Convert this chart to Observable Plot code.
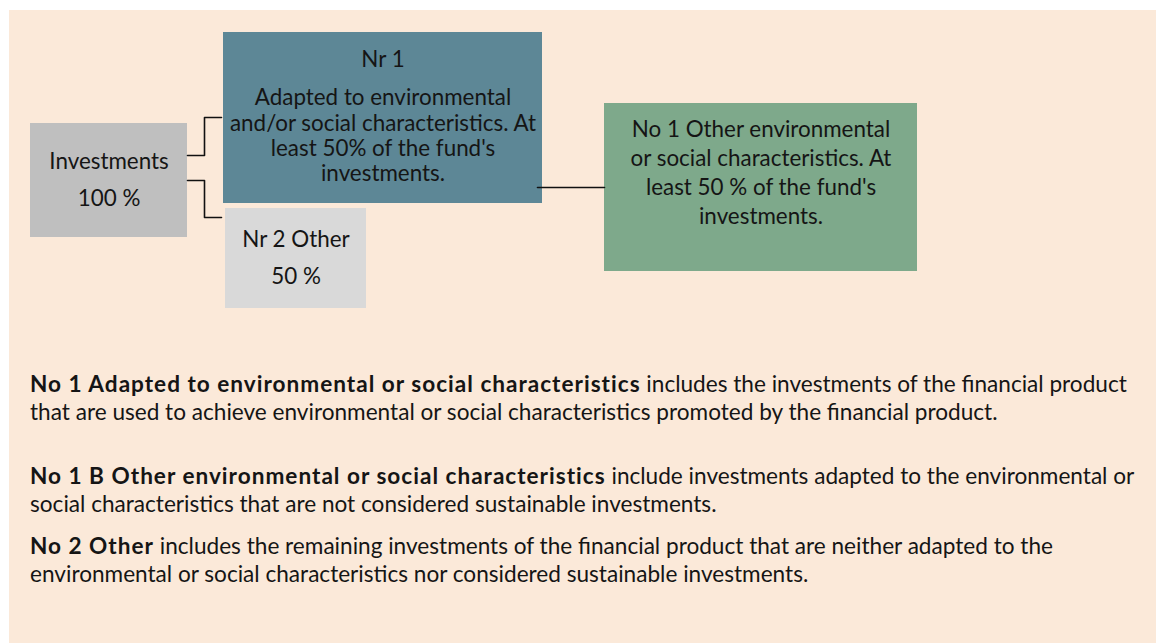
<!DOCTYPE html>
<html>
<head>
<meta charset="utf-8">
<script src="https://cdn.jsdelivr.net/npm/d3@7"></script>
<script src="https://cdn.jsdelivr.net/npm/@observablehq/plot@0.6"></script>
<style>
  html, body { margin: 0; padding: 0; background: #ffffff; }
  #panel { position: absolute; left: 9px; top: 10px; width: 1147px; height: 633px; background: #FBE9D9; overflow: hidden; }
  #chart { position: absolute; left: 0; top: 0; }
  .para { position: absolute; left: 21px; font-family: Lato, "Open Sans", sans-serif; font-size: 22.6px; color: #151515; white-space: nowrap; line-height: 28.5px; }
  .para b { font-weight: 700; letter-spacing: 1px; }
</style>
</head>
<body>
<div id="panel"><div id="chart"></div></div>
<script>
// ---- Data: boxes of the asset allocation diagram ----
const boxIds    = ["inv", "nr1", "nr2", "no1"];
const boxTitles = ["Investments", "Nr 1", "Nr 2 Other", "No 1 Other environmental"];
const boxLines  = [
  ["Investments", "100 %"],
  ["Nr 1", "Adapted to environmental", "and/or social characteristics. At", "least 50% of the fund's", "investments."],
  ["Nr 2 Other", "50 %"],
  ["No 1 Other environmental", "or social characteristics. At", "least 50 % of the fund's", "investments."]
];
const boxShares = [100, 50, 50, 50];
const links = [["inv", "nr1"], ["inv", "nr2"], ["nr1", "no1"]];

// ---- Explanatory paragraphs (bold lead, rest) ----
const paraLeads = [
  "No 1 Adapted to environmental or social characteristics",
  "No 1 B Other environmental or social characteristics",
  "No 2 Other"
];
const paraLines = [
  [" includes the investments of the financial product", "that are used to achieve environmental or social characteristics promoted by the financial product."],
  [" include investments adapted to the environmental or", "social characteristics that are not considered sustainable investments."],
  [" includes the remaining investments of the financial product that are neither adapted to the", "environmental or social characteristics nor considered sustainable investments."]
];

// ---- Layout (page pixel coordinates) ----
const layout = {
  inv: {x1: 30,  x2: 187, y1: 123, y2: 237, fill: "#BFBFBF", ys: [161, 198]},
  nr1: {x1: 223, x2: 542, y1: 32,  y2: 203, fill: "#5D8796", ys: [59, 97, 123, 148, 173]},
  nr2: {x1: 225, x2: 366, y1: 208, y2: 308, fill: "#D9D9D9", ys: [239, 276]},
  no1: {x1: 604, x2: 917, y1: 103, y2: 271, fill: "#7EA98B", ys: [129, 158, 187, 216]}
};
const connectorPaths = {
  "inv-nr1": [[187,155],[204,155],[204,117],[221,117]],
  "inv-nr2": [[187,180],[204,180],[204,217],[221,217]],
  "nr1-no1": [[537,187],[604,187]]
};

const boxes = boxIds.map((id, i) => ({id, title: boxTitles[i], share: boxShares[i], ...layout[id]}));
const textRows = boxes.flatMap((b, i) => boxLines[i].map((t, j) => ({text: t, x: (b.x1 + b.x2) / 2, y: b.ys[j]})));
const linkRows = links.flatMap(([a, b]) => connectorPaths[a + "-" + b].map(([x, y]) => ({link: a + "-" + b, x, y})));

const W = 1147, H = 320, OX = 9, OY = 10;
const chart = Plot.plot({
  width: W, height: H,
  margin: 0,
  style: {background: "transparent", fontFamily: "Lato, 'Open Sans', sans-serif"},
  x: {domain: [OX, OX + W], range: [0, W], axis: null},
  y: {domain: [OY, OY + H], range: [0, H], axis: null},
  marks: [
    Plot.rect(boxes, {x1: "x1", x2: "x2", y1: "y1", y2: "y2", fill: "fill"}),
    Plot.line(linkRows, {x: "x", y: "y", z: "link", stroke: "#111", strokeWidth: 1.6, curve: "linear"}),
    Plot.text(textRows, {x: "x", y: "y", text: "text", fontSize: 22.4, fill: "#151515", textAnchor: "middle", lineAnchor: "middle"})
  ]
});
document.getElementById("chart").appendChild(chart);

// paragraphs
const paraTops = [384, 476, 546];
const panel = document.getElementById("panel");
paraLeads.forEach((lead, i) => {
  const p = document.createElement("div");
  p.className = "para";
  p.style.top = (paraTops[i] - OY - 14.25) + "px";
  const b = document.createElement("b");
  b.textContent = lead;
  p.appendChild(b);
  p.appendChild(document.createTextNode(paraLines[i][0]));
  p.appendChild(document.createElement("br"));
  p.appendChild(document.createTextNode(paraLines[i][1]));
  panel.appendChild(p);
});
</script>
</body>
</html>
